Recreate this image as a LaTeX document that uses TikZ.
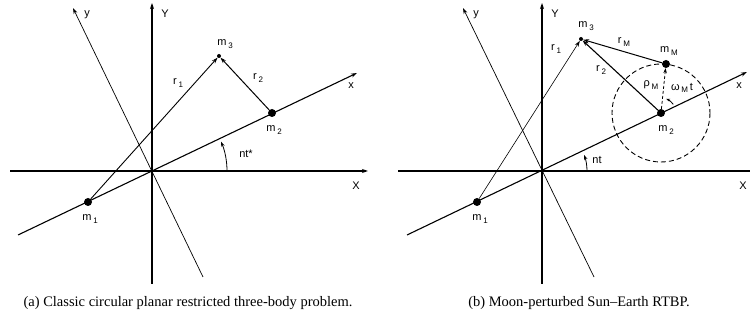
\documentclass[tikz,border=0pt]{standalone}
\usepackage{fontspec}
\setmainfont{Liberation Serif}
\setsansfont{Liberation Sans}
\usetikzlibrary{arrows.meta,calc}
\newcommand\lsub[1]{\,\raisebox{-2.8pt}{\fontsize{8}{8}\selectfont #1}}
\begin{document}
\begin{tikzpicture}[x=1pt,y=-1pt,
  lbl/.style={font=\sffamily\fontsize{11}{12}\selectfont, inner sep=0pt},
  captxt/.style={font=\rmfamily\fontsize{14.5}{16}\selectfont, inner sep=0pt},
  tip/.style={-{Stealth[length=6pt,width=4pt]}},
  axis/.style={line width=1.3pt},
  rotx/.style={line width=1.1pt},
  roty/.style={line width=0.7pt},
  vec/.style={line width=1pt,-{Stealth[length=6pt,width=4pt]}},
  thinvec/.style={line width=0.7pt,-{Stealth[length=6pt,width=4pt]}},
  bigdot/.style={circle,fill=black,inner sep=0pt,minimum size=8pt},
  smalldot/.style={circle,fill=black,inner sep=0pt,minimum size=4pt},
  orbit/.style={line width=0.9pt,dash pattern=on 5pt off 3pt},
]
\useasboundingbox (0,0) rectangle (750,320);
\fill[white] (0,0) rectangle (750,320);

% ---------------- Left panel ----------------
\coordinate (LO) at (152,171);
\coordinate (LXa) at (10,171);   \coordinate (LXb) at (368,171);
\coordinate (LYa) at (152,284);  \coordinate (LYb) at (152,3);
\coordinate (Lya) at (203,277);  \coordinate (Lyb) at (73,8);
\coordinate (Lxa) at (18,235);   \coordinate (Lxb) at (357,73);
\draw[axis,tip] (LXa) -- (LXb);
\draw[axis,tip] (LYa) -- (LYb);
\draw[roty,tip] (Lya) -- (Lyb);
\draw[rotx,tip] (Lxa) -- (Lxb);

\node[bigdot] (Lm1) at (88,202) {};
\node[bigdot] (Lm2) at (272,113) {};
\node[smalldot] (Lm3) at (219,56) {};
\draw[thinvec,line width=0.9pt] (Lm1) -- (Lm3);
\draw[vec] (Lm2) -- (Lm3);

\coordinate (Lnt) at (227,171);
\draw[line width=0.8pt,-{Stealth[length=5pt,width=3.5pt]}] (Lnt) arc[start angle=0,end angle=-23,radius=75];

\node[lbl] (Lly) at (87,15) {y};
\node[lbl] (LlY) at (165,14) {Y};
\node[lbl] (Llx) at (351,86) {x};
\node[lbl] (LlX) at (356,186) {X};
\node[lbl] (Llm3) at (225,44) {m\lsub{3}};
\node[lbl] (Llr1) at (178,83) {r\lsub{1}};
\node[lbl] (Llr2) at (258,78) {r\lsub{2}};
\node[lbl] (Llm2) at (274,130) {m\lsub{2}};
\node[lbl] (Llm1) at (90,219) {m\lsub{1}};
\node[lbl] (Llnt) at (246,154) {nt*};

% ---------------- Right panel ----------------
\coordinate (RO) at (542,171);
\coordinate (RXa) at (398,171);  \coordinate (RXb) at (750,171);
\coordinate (RYa) at (542,284);  \coordinate (RYb) at (542,3);
\coordinate (Rya) at (594,277);  \coordinate (Ryb) at (463,8);
\coordinate (Rxa) at (407,235);  \coordinate (Rxb) at (747,72);
\draw[axis] (RXa) -- (RXb);
\draw[axis,tip] (RYa) -- (RYb);
\draw[roty,tip] (Rya) -- (Ryb);
\draw[rotx,tip] (Rxa) -- (Rxb);

\node[bigdot] (Rm1) at (477,202) {};
\node[bigdot] (Rm2) at (661,113) {};
\node[bigdot] (RmM) at (666,64) {};
\node[smalldot] (Rm3) at (581,39) {};
\draw[orbit] (Rm2) circle[radius=49];
\draw[thinvec,line width=0.6pt] (Rm1) -- (Rm3);
\draw[vec,line width=1.1pt] (Rm2) -- (Rm3);
\draw[vec] (RmM) -- (Rm3);
\draw[line width=0.8pt,dash pattern=on 3pt off 2pt,-{Stealth[length=5pt,width=3.5pt]}] (Rm2) -- (RmM);

\coordinate (Rnt) at (587,171);
\draw[line width=0.8pt,-{Stealth[length=5pt,width=3.5pt]}] (Rnt) arc[start angle=0,end angle=-21,radius=45];
\coordinate (Rwt) at ($(Rm2)+(-35:15)$);
\draw[line width=0.8pt,-{Stealth[length=4pt,width=3pt]}] (Rwt) arc[start angle=-35,end angle=-70,radius=15];

\node[lbl] (Rly) at (476,15) {y};
\node[lbl] (RlY) at (555,14) {Y};
\node[lbl] (Rlx) at (739,86) {x};
\node[lbl] (RlX) at (743,186) {X};
\node[lbl] (Rlm3) at (586,26) {m\lsub{3}};
\node[lbl] (RlrM) at (624,42) {r\lsub{M}};
\node[lbl] (RlmM) at (669,51) {m\lsub{M}};
\node[lbl] (Rlr1) at (556,49) {r\lsub{1}};
\node[lbl] (Rlr2) at (601,70) {r\lsub{2}};
\node[lbl] (RlrhoM) at (651,85) {ρ\lsub{M}};
\node[lbl] (RlwM) at (682,88) {ω\lsub{M}\,t};
\node[lbl] (Rlm2) at (666,130) {m\lsub{2}};
\node[lbl] (Rlm1) at (480,219) {m\lsub{1}};
\node[lbl] (Rlnt) at (597,160) {nt};

% ---------------- Captions ----------------
\node[captxt] (capa) at (188,303) {(a) Classic circular planar restricted three-body problem.};
\node[captxt] (capb) at (579,303) {(b) Moon-perturbed Sun–Earth RTBP.};
\end{tikzpicture}
\end{document}
